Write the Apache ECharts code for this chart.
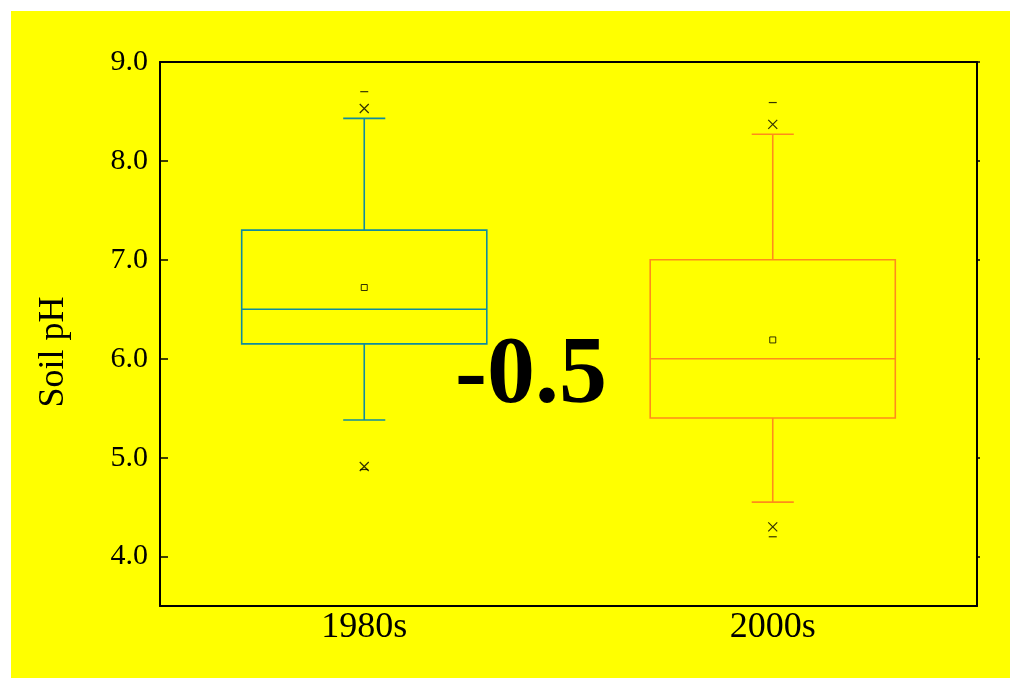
<!DOCTYPE html>
<html>
<head>
<meta charset="utf-8">
<script src="https://cdn.jsdelivr.net/npm/echarts@6/dist/echarts.min.js"></script>
<style>
  html, body { margin: 0; padding: 0; background: #fff; }
  #chart { position: absolute; left: 11px; top: 11px; width: 999px; height: 667px; }
</style>
</head>
<body>
<div id="chart"></div>
<script>
// soil pH by decade
const categories = ['1980s', '2000s'];
const whiskerLow = [5.38, 4.55];
const q1 = [6.15, 5.40];
const median = [6.50, 6.00];
const q3 = [7.30, 7.00];
const whiskerHigh = [8.43, 8.27];
const means = [6.72, 6.19];
const p99 = [8.53, 8.37];
const p1 = [4.91, 4.30];
const maxVals = [8.70, 8.59];
const minVals = [4.88, 4.20];
const yTicks = [4, 5, 6, 7, 8, 9];
const colors = ['#0f8c9e', '#ff8c1a'];
const diffLabel = '-0.5';
const yTitle = 'Soil pH';

const serif = '"Liberation Serif", "DejaVu Serif", serif';
const crossPath = 'path://M0,0L10,10M10,0L0,10';

const boxData = categories.map((c, i) => [i, whiskerLow[i], q1[i], median[i], q3[i], whiskerHigh[i]]);

function renderBox(params, api) {
  const idx = api.value(0);
  const band = api.size([1, 0])[0];
  const boxW = band * 0.6;
  const capW = band * 0.103;
  const lo = api.coord([idx, api.value(1)]);
  const b1 = api.coord([idx, api.value(2)]);
  const md = api.coord([idx, api.value(3)]);
  const b3 = api.coord([idx, api.value(4)]);
  const hi = api.coord([idx, api.value(5)]);
  const cx = lo[0];
  const style = { stroke: colors[idx], lineWidth: 1.6, fill: null };
  return {
    type: 'group',
    children: [
      { type: 'rect', shape: { x: cx - boxW / 2, y: b3[1], width: boxW, height: b1[1] - b3[1] }, style: style },
      { type: 'line', shape: { x1: cx - boxW / 2, y1: md[1], x2: cx + boxW / 2, y2: md[1] }, style: style },
      { type: 'line', shape: { x1: cx, y1: b3[1], x2: cx, y2: hi[1] }, style: style },
      { type: 'line', shape: { x1: cx, y1: b1[1], x2: cx, y2: lo[1] }, style: style },
      { type: 'line', shape: { x1: cx - capW / 2, y1: hi[1], x2: cx + capW / 2, y2: hi[1] }, style: style },
      { type: 'line', shape: { x1: cx - capW / 2, y1: lo[1], x2: cx + capW / 2, y2: lo[1] }, style: style }
    ]
  };
}

const pairs = (arr) => arr.map((v, i) => [categories[i], v]);

const chart = echarts.init(document.getElementById('chart'));
chart.setOption({
  backgroundColor: '#ffff00',
  animation: false,
  grid: { left: 149, top: 51, right: 33, bottom: 72, show: false },
  xAxis: [
    {
      type: 'category',
      data: categories,
      boundaryGap: true,
      axisLine: { lineStyle: { color: '#000', width: 2 } },
      axisTick: { inside: true, alignWithLabel: true, length: 12, lineStyle: { color: '#000', width: 1.5 } },
      axisLabel: { color: '#000', fontFamily: serif, fontSize: 36, margin: 4 },
      splitLine: { show: false }
    },
    {
      type: 'category',
      data: categories,
      position: 'top',
      axisLine: { lineStyle: { color: '#000', width: 2 } },
      axisTick: { show: false },
      axisLabel: { show: false }
    }
  ],
  yAxis: [
    {
      type: 'value',
      min: 3.5,
      max: 9,
      axisLine: { show: true, lineStyle: { color: '#000', width: 2 } },
      axisTick: { show: true, inside: true, length: 8, customValues: yTicks, lineStyle: { color: '#000', width: 1.5 } },
      axisLabel: { color: '#000', fontFamily: serif, fontSize: 30, margin: 12, customValues: yTicks, formatter: (v) => v.toFixed(1) },
      splitLine: { show: false }
    },
    {
      type: 'value',
      min: 3.5,
      max: 9,
      position: 'right',
      axisLine: { show: true, lineStyle: { color: '#000', width: 2 } },
      axisTick: { show: true, inside: false, length: 3, customValues: yTicks, lineStyle: { color: '#000', width: 1.5 } },
      axisLabel: { show: false },
      splitLine: { show: false }
    }
  ],
  series: [
    {
      type: 'custom',
      renderItem: renderBox,
      data: boxData,
      encode: { x: 0, y: [1, 2, 3, 4, 5] },
      z: 2
    },
    {
      type: 'scatter',
      data: pairs(means),
      symbol: 'rect',
      symbolSize: 6,
      itemStyle: { color: 'rgba(0,0,0,0)', borderColor: '#000', borderWidth: 1 },
      z: 3
    },
    {
      type: 'scatter',
      data: pairs(p99).concat(pairs(p1)),
      symbol: crossPath,
      symbolSize: 9,
      itemStyle: { color: 'rgba(0,0,0,0)', borderColor: '#000', borderWidth: 1.2 },
      z: 3
    },
    {
      type: 'scatter',
      data: pairs(maxVals).concat(pairs(minVals)),
      symbol: 'rect',
      symbolSize: [8, 1.2],
      itemStyle: { color: '#000' },
      z: 3
    }
  ],
  graphic: [
    {
      type: 'text',
      x: 43,
      y: 341,
      rotation: Math.PI / 2,
      style: { text: yTitle, fill: '#000', font: '36px ' + serif, align: 'center', verticalAlign: 'middle' }
    },
    {
      type: 'text',
      left: 444,
      top: 318,
      style: { text: diffLabel, fill: '#000', font: 'bold 96px ' + serif }
    }
  ]
});
</script>
</body>
</html>
